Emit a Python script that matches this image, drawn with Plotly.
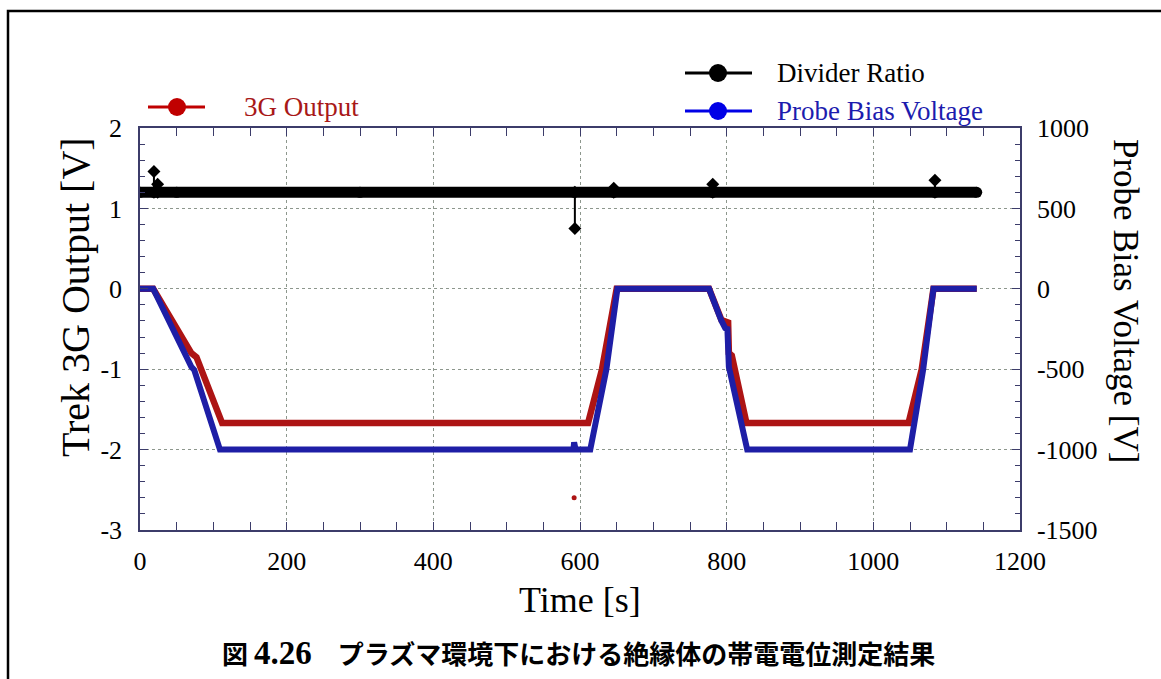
import plotly.graph_objects as go

# ---------------- data ----------------
# Trek 3G Output [V] (left axis)
time_3g = [0, 18, 70, 77, 112, 611, 630, 650, 776, 793, 802, 803, 807, 827, 1048, 1066, 1082, 1141]
out_3g = [0, 0, -0.80, -0.85, -1.67, -1.67, -1.0, 0, 0, -0.39, -0.42, -0.80, -0.83, -1.67, -1.67, -1.0, 0, 0]
# isolated 3G outlier sample
outlier_t = [592]
outlier_v = [-2.6]

# Probe Bias Voltage [V] (right axis)
time_bias = [0, 18, 70, 74, 109, 591, 592, 594, 614, 636, 651, 776, 793, 798, 801, 803, 828, 1050, 1068, 1082, 1141]
bias_v = [0, 0, -485, -505, -1000, -1000, -955, -1000, -1000, -500, 0, 0, -200, -245, -250, -485, -1000, -1000, -500, 0, 0]

# Divider Ratio (left axis): baseline and short spikes
time_ratio = [0, 19, 50, 300, 592, 646, 781, 1084, 1141]
ratio_v = [1.2, 1.2, 1.2, 1.2, 1.2, 1.2, 1.2, 1.2, 1.2]
spike_t = [19, 19, None, 24, 24, None, 593, 593, None, 646, 646, None, 781, 781, None, 1084, 1084]
spike_v = [1.2, 1.46, None, 1.2, 1.3, None, 1.2, 0.75, None, 1.2, 1.25, None, 1.2, 1.3, None, 1.2, 1.35]

# axis ticks
x_ticks = [0, 200, 400, 600, 800, 1000, 1200]
x_labels = ["0", "200", "400", "600", "800", "1000", "1200"]
y_ticks = [-3, -2, -1, 0, 1, 2]
y_labels = ["-3", "-2", "-1", "0", "1", "2"]
y2_ticks = [-1500, -1000, -500, 0, 500, 1000]
y2_labels = ["-1500", "-1000", "-500", "0", "500", "1000"]

# ---------------- styling ----------------
RED = "#ad1414"
BLUE = "#1e1ea6"
AXIS = "#3c3c6a"
GRID = "#8d978d"
SERIF = "Liberation Serif, Times New Roman, serif"

W, H = 1161, 679
L, R, T, B = 140, 141, 128, 149
PW, PH = W - L - R, H - T - B


def px(xp):
    return (xp - L) / PW


def py(yp):
    return (H - B - yp) / PH


fig = go.Figure()

fig.add_trace(go.Scatter(x=time_3g, y=out_3g, mode="lines", name="3G Output",
                         line=dict(color=RED, width=6.5), showlegend=False))
fig.add_trace(go.Scatter(x=outlier_t, y=outlier_v, mode="markers", showlegend=False,
                         marker=dict(color=RED, size=5)))
fig.add_trace(go.Scatter(x=time_ratio, y=ratio_v, mode="lines+markers", name="Divider Ratio",
                         line=dict(color="black", width=11),
                         marker=dict(color="black", size=11), showlegend=False))
fig.add_trace(go.Scatter(x=spike_t, y=spike_v, mode="lines+markers", showlegend=False,
                         line=dict(color="black", width=2),
                         marker=dict(color="black", size=10, symbol="diamond")))
fig.add_trace(go.Scatter(x=time_bias, y=bias_v, mode="lines", name="Probe Bias Voltage",
                         yaxis="y2", line=dict(color=BLUE, width=6), showlegend=False))

axis_common = dict(showline=True, linecolor=AXIS, linewidth=1.5, ticks="inside",
                   tickcolor=AXIS, ticklen=8, tickwidth=1.2, zeroline=False,
                   tickfont=dict(family=SERIF, size=26, color="black"))

fig.update_layout(
    width=W, height=H,
    margin=dict(l=L, r=R, t=T, b=B),
    paper_bgcolor="white", plot_bgcolor="white",
    showlegend=False,
    xaxis=dict(range=[0, 1200], tickvals=x_ticks, ticktext=x_labels, mirror="allticks",
               showgrid=True, gridcolor=GRID, griddash="dot", gridwidth=1,
               minor=dict(dtick=50, tick0=0, ticks="inside", ticklen=5, tickcolor=AXIS, showgrid=False),
               ticklabelstandoff=7, **axis_common),
    yaxis=dict(range=[-3, 2], tickvals=y_ticks, ticktext=y_labels,
               showgrid=True, gridcolor=GRID, griddash="dot", gridwidth=1,
               minor=dict(dtick=0.2, tick0=0, ticks="inside", ticklen=5, tickcolor=AXIS, showgrid=False),
               ticklabelstandoff=11, **axis_common),
    yaxis2=dict(range=[-1500, 1000], tickvals=y2_ticks, ticktext=y2_labels, overlaying="y", side="right",
                showgrid=False,
                minor=dict(dtick=100, tick0=0, ticks="inside", ticklen=5, tickcolor=AXIS, showgrid=False),
                ticklabelstandoff=10, **axis_common),
)

annotations = []
shapes = []


def note(text, xp, yp, size, angle=0, xanchor="center", color="black", family=SERIF):
    annotations.append(dict(text=text, x=px(xp), y=py(yp), xref="paper", yref="paper",
                            xanchor=xanchor, yanchor="middle", showarrow=False, textangle=angle,
                            font=dict(family=family, size=size, color=color)))


# axis titles
note("Time [s]", 580, 600, 36)
note("Trek 3G Output [V]", 75, 297, 40, angle=-90)
note("Probe Bias Voltage [V]", 1126, 301, 35, angle=90)

# caption
note("<b>図 <span style='font-family:Liberation Serif;font-size:33px'>4.26</span>　プラズマ環境下における絶縁体の帯電電位測定結果</b>",
     578, 652, 26, family="Noto Sans CJK JP")

# legend (drawn manually to match the original layout)
legend_items = [
    ("3G Output", 148, 205, 177, 107, "#c00000", "#a81818"),
    ("Divider Ratio", 685, 752, 718, 73, "black", "black"),
    ("Probe Bias Voltage", 685, 752, 718, 111, "#0000e6", "#1c1cae"),
]
for name, x0, x1, xc, yc, col, tcol in legend_items:
    shapes.append(dict(type="line", xref="paper", yref="paper", x0=px(x0), x1=px(x1),
                       y0=py(yc), y1=py(yc), line=dict(color=col, width=3)))
    shapes.append(dict(type="circle", xref="paper", yref="paper", xsizemode="pixel", ysizemode="pixel",
                       xanchor=px(xc), yanchor=py(yc), x0=-9, x1=9, y0=-9, y1=9,
                       fillcolor=col, line=dict(color=col, width=0)))
lx = {"3G Output": 242, "Divider Ratio": 775, "Probe Bias Voltage": 775}
for name, x0, x1, xc, yc, col, tcol in legend_items:
    note(name, lx[name], yc, 27, xanchor="left", color=tcol)

# outer frame (left and top edges visible)
shapes.append(dict(type="rect", xref="paper", yref="paper", x0=px(8), x1=px(1175),
                   y0=py(700), y1=py(11), line=dict(color="black", width=2.5)))

fig.update_layout(annotations=annotations, shapes=shapes)

fig.write_html("out.html")
